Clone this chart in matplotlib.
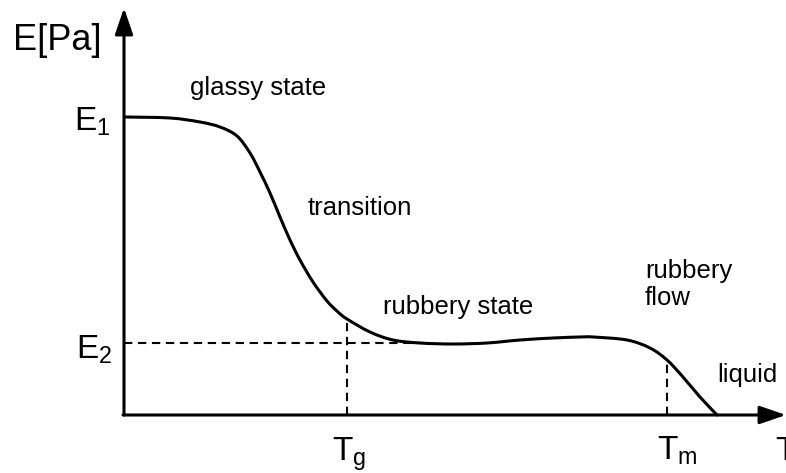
import matplotlib
matplotlib.use("Agg")
import matplotlib.pyplot as plt
from matplotlib.patches import FancyArrowPatch, PathPatch
from matplotlib.path import Path

plt.rcParams['font.family'] = ['Liberation Sans', 'DejaVu Sans']
plt.rcParams['mathtext.fontset'] = 'custom'
plt.rcParams['mathtext.rm'] = 'Liberation Sans'
plt.rcParams['mathtext.it'] = 'Liberation Sans'

# Curve (T, E in arbitrary units, origin at axes corner)
T_vals = [1, 46, 76, 96, 113, 126, 136, 146, 156, 166, 176, 189, 203, 214, 223,
          246, 269, 296, 329, 363, 396, 429, 456, 469, 503, 526, 543, 559, 576, 593]
E_vals = [298, 297, 293, 288, 279, 262, 243, 222, 198, 175, 155, 133, 114, 103, 96,
          83, 75, 72, 71, 72, 75, 77, 78, 78, 75, 67, 55, 38, 18, 0]

E1 = 298
E2 = 72
Tg = 223
Tg_E = 96
Tm = 543
Tm_E = 55
E2_end = 300

region_labels = ["glassy state", "transition", "rubbery state", "rubbery\nflow", "liquid"]

fig = plt.figure(figsize=(7.86, 4.73), dpi=100)
ax = fig.add_axes([0, 0, 1, 1])
ax.set_xlim(-124, 662)
ax.set_ylim(-58, 415)
ax.axis('off')

# smooth curve through the read points (Catmull-Rom as cubic Bezier path)
pts = list(zip(T_vals, E_vals))
n = len(pts)
verts = [pts[0]]
codes = [Path.MOVETO]
for i in range(n - 1):
    p0 = pts[i - 1] if i > 0 else pts[i]
    p1 = pts[i]
    p2 = pts[i + 1]
    p3 = pts[i + 2] if i + 2 < n else pts[i + 1]
    c1 = (p1[0] + (p2[0] - p0[0]) / 6.0, p1[1] + (p2[1] - p0[1]) / 6.0)
    c2 = (p2[0] - (p3[0] - p1[0]) / 6.0, p2[1] - (p3[1] - p1[1]) / 6.0)
    verts += [c1, c2, p2]
    codes += [Path.CURVE4, Path.CURVE4, Path.CURVE4]
ax.add_patch(PathPatch(Path(verts, codes), facecolor='none', edgecolor='black',
                       lw=2.2, capstyle='round', joinstyle='round', zorder=3))

# dashed guides
ax.plot([0, E2_end], [E2, E2], color='black', lw=1.5, dashes=(4, 2.7), zorder=2)
ax.plot([Tg, Tg], [0, Tg_E], color='black', lw=1.5, dashes=(4, 2.7), zorder=2)
ax.plot([Tm, Tm], [0, Tm_E], color='black', lw=1.5, dashes=(4, 2.7), zorder=2)

# axes with arrows
style = '-|>,head_length=1.6,head_width=0.55'
ax.add_patch(FancyArrowPatch((0, 0), (0, 407), arrowstyle=style, mutation_scale=10,
                             lw=2.2, color='black', shrinkA=0, shrinkB=0, zorder=4))
ax.add_patch(FancyArrowPatch((-1, 0), (662, 0), arrowstyle=style, mutation_scale=10,
                             lw=2.2, color='black', shrinkA=0, shrinkB=0, zorder=4))

# axis labels
ax.text(-111, 365, "E[Pa]", fontsize=26, ha='left', va='baseline')
ax.text(651, -45, "T", fontsize=24, ha='left', va='baseline')
ax.text(-14, E1 - 14, r"$\mathregular{E_1}$", fontsize=24, ha='right', va='baseline')
ax.text(-12, E2 - 16, r"$\mathregular{E_2}$", fontsize=24, ha='right', va='baseline')
ax.text(Tg + 2, -46, r"$\mathregular{T_g}$", fontsize=24, ha='center', va='baseline')
ax.text(Tm + 10, -45, r"$\mathregular{T_m}$", fontsize=24, ha='center', va='baseline')

# region labels
label_pos = [(66, 320), (184, 200), (259, 101), (521, 110), (593, 33)]
for txt, (x, y) in zip(region_labels, label_pos):
    ax.text(x, y, txt, fontsize=18.5, ha='left', va='baseline', linespacing=1.15)

fig.savefig("out.png", dpi=100)
